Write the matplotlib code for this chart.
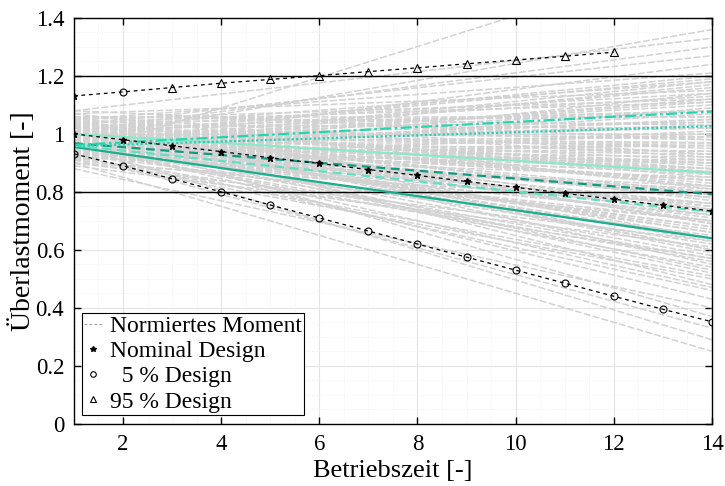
import matplotlib
matplotlib.use("Agg")

import numpy as np
import matplotlib.pyplot as plt
from matplotlib.lines import Line2D
from matplotlib.ticker import MultipleLocator

# ── Data ─────────────────────────────────────────────────────────────────────
YEARS = np.arange(1, 15)

NOMINAL = [1.00, 0.980, 0.959, 0.939, 0.918, 0.898, 0.877, 0.857, 0.836,
           0.816, 0.795, 0.775, 0.754, 0.734]
P05 = [0.931, 0.890, 0.845, 0.800, 0.755, 0.710, 0.665, 0.620, 0.575,
       0.530, 0.485, 0.440, 0.395, 0.352]
YEARS_95 = np.arange(1, 13)
P95 = [1.131, 1.145, 1.160, 1.175, 1.188, 1.201, 1.215, 1.228, 1.242,
       1.255, 1.268, 1.282]

# normalised moment fan: value at year 1 and year 14 of each straight line
FAN_START = [0.90, 0.96, 0.93, 1.01, 0.88, 0.97, 0.94, 1.03, 0.91, 0.99,
             0.95, 1.05, 0.92, 0.98, 1.02, 0.89, 0.96, 1.04, 0.93, 1.00,
             0.97, 1.06, 0.91, 0.99, 0.94, 1.02, 0.96, 0.90, 1.03, 0.98,
             0.95, 1.07, 0.92, 1.00, 0.97, 1.04, 0.94, 0.99, 1.01, 0.93,
             1.05, 0.96, 0.98, 1.02, 0.95, 1.08, 0.97, 1.00, 0.91, 1.03,
             0.99, 0.96, 1.06, 0.94, 1.01, 0.98, 1.04, 0.95, 1.00, 1.07,
             0.97, 1.02, 0.99, 1.05, 0.96, 1.03, 1.01, 1.08, 0.98, 0.93,
             0.97, 0.92, 1.00, 0.95, 1.03, 0.90, 0.98, 0.94, 1.01, 0.96,
             1.04, 0.93, 0.99, 0.97, 0.91, 1.02, 0.95, 1.00, 0.98, 1.05,
             0.94, 0.97, 1.01, 0.92, 0.99, 1.03, 0.96, 1.06, 0.93, 1.00,
             0.98, 0.95, 1.02, 0.97, 0.91, 1.04, 0.99, 0.96, 1.01, 0.94,
             1.00, 0.97, 1.03, 0.95, 0.99, 0.92, 1.02, 0.98, 1.05, 0.96,
             1.01, 0.94, 0.99, 1.03, 0.97, 1.00, 0.95, 1.02, 0.98, 1.04,
             0.96, 1.00, 0.93, 1.01, 0.97, 1.06, 0.99, 0.95, 1.02, 0.98]
FAN_END = [0.25, 0.29, 0.33, 0.37, 0.40, 0.43, 0.46, 0.48, 0.50, 0.52,
           0.54, 0.55, 0.57, 0.58, 0.60, 0.61, 0.62, 0.64, 0.65, 0.66,
           0.68, 0.69, 0.70, 0.71, 0.72, 0.74, 0.75, 0.76, 0.77, 0.78,
           0.80, 0.81, 0.82, 0.83, 0.84, 0.86, 0.87, 0.88, 0.89, 0.90,
           0.92, 0.93, 0.94, 0.95, 0.96, 0.98, 0.99, 1.00, 1.01, 1.02,
           1.04, 1.05, 1.06, 1.07, 1.08, 1.10, 1.11, 1.12, 1.13, 1.15,
           1.16, 1.18, 1.19, 1.21, 1.24, 1.27, 1.30, 1.33, 1.36, 1.62,
           0.47, 0.51, 0.53, 0.56, 0.59, 0.63, 0.67, 0.70, 0.73, 0.79,
           0.85, 0.91, 0.97, 1.03, 1.09, 1.14, 1.17, 0.63, 0.66, 0.69,
           0.72, 0.75, 0.78, 0.81, 0.84, 0.87, 0.90, 0.93, 0.96, 0.99,
           1.02, 1.05, 1.08, 1.11, 1.14, 0.60, 0.64, 0.68, 0.72, 0.76,
           0.80, 0.84, 0.88, 0.92, 0.96, 1.00, 1.04, 1.08, 1.12, 1.18,
           0.70, 0.74, 0.78, 0.82, 0.86, 0.90, 0.94, 0.98, 1.02, 1.06,
           0.57, 0.79, 0.85, 0.91, 0.97, 1.03, 1.20, 0.88, 0.82, 0.76]

# teal design lines (year 1 -> year 14)
TEAL_START = [0.955, 1.000, 0.968, 0.960, 0.962, 0.958]
TEAL_END = [0.640, 0.866, 0.792, 0.731, 1.077, 1.027]

LIMITS = [0.8, 1.2]

# ── Style ────────────────────────────────────────────────────────────────────
plt.rcParams["font.family"] = ["Liberation Serif", "DejaVu Serif"]

TEAL_STYLES = [
    dict(color="#19ae8e", ls="-", lw=1.6),
    dict(color="#8ee8c8", ls="-", lw=1.6),
    dict(color="#0f9a80", ls=(0, (4, 2.5)), lw=1.6),
    dict(color="#5fe0bf", ls=(0, (4, 2.5)), lw=1.6),
    dict(color="#24d6ae", ls=(0, (5, 1.5, 1.2, 1.5)), lw=1.6),
    dict(color="#2bcfb4", ls=(0, (1, 1)), lw=1.6),
]
DASH = (0, (3, 3))

fig = plt.figure(figsize=(7.25, 4.86), dpi=100)
ax = fig.add_axes([0.102, 0.128, 0.880, 0.835])

# fan of normalised moments
x_fan = [YEARS[0], YEARS[-1]]
for s, e in zip(FAN_START, FAN_END):
    ax.plot(x_fan, [s, e], color="#d2d2d2", lw=1.1, ls=(0, (4.5, 1.5)), zorder=1)

# limits
for y in LIMITS:
    ax.axhline(y, color="black", lw=1.0, zorder=3)

# teal design lines
for s, e, st in zip(TEAL_START, TEAL_END, TEAL_STYLES):
    ax.plot(x_fan, [s, e], color=st["color"], ls=st["ls"], lw=st["lw"], zorder=4)

# designs
ax.plot(YEARS, NOMINAL, color="black", ls=DASH, lw=0.9,
        marker="*", ms=5, mfc="black", mec="black", zorder=5)
ax.plot(YEARS, P05, color="black", ls=DASH, lw=0.9,
        marker="o", ms=5, mfc="none", mec="black", mew=0.8, zorder=5)
ax.plot(YEARS_95, P95, color="black", ls=DASH, lw=0.9, zorder=5)
ax.plot(YEARS_95[0], P95[0], ls="none", marker="*", ms=5, color="black", zorder=6)
ax.plot(YEARS_95[1], P95[1], ls="none", marker="o", ms=5, mfc="none",
        mec="black", mew=0.8, zorder=6)
ax.plot(YEARS_95[2:], P95[2:], ls="none", marker="^", ms=5.5, mfc="none",
        mec="black", mew=0.8, zorder=6)

# ── Axes ─────────────────────────────────────────────────────────────────────
ax.set_xlim(1, 14)
ax.set_ylim(0, 1.4)
ax.set_xticks(np.arange(2, 15, 2))
ax.set_yticks(np.arange(0, 1.41, 0.2))
ax.set_yticklabels(["0", "0.2", "0.4", "0.6", "0.8", "1", "1.2", "1.4"])
ax.xaxis.set_minor_locator(MultipleLocator(0.5))
ax.yaxis.set_minor_locator(MultipleLocator(0.05))
ax.grid(which="major", color="#e4e4e4", lw=0.8, zorder=0)
ax.grid(which="minor", color="#ececec", lw=0.6, ls=(0, (1, 2)), zorder=0)
ax.set_axisbelow(True)
ax.tick_params(which="major", direction="in", length=5, width=1,
               top=True, right=True, labelsize=16.5, pad=7)
ax.tick_params(which="minor", length=0)
for sp in ax.spines.values():
    sp.set_linewidth(1.0)
    sp.set_zorder(7)

ax.set_xlabel("Betriebszeit [-]", fontsize=19, labelpad=4)
ax.set_ylabel("Überlastmoment [-]", fontsize=20, labelpad=0)

# ── Legend ───────────────────────────────────────────────────────────────────
handles = [
    Line2D([], [], color="#a0a0a0", lw=0.8, ls=(0, (2.5, 2))),
    Line2D([], [], ls="none", marker="*", ms=4, color="black"),
    Line2D([], [], ls="none", marker="o", ms=4, mfc="none", mec="black", mew=0.8),
    Line2D([], [], ls="none", marker="^", ms=4, mfc="none", mec="black", mew=0.8),
]
labels = ["Normiertes Moment", "Nominal Design", "  5 % Design", "95 % Design"]
leg = ax.legend(handles, labels, loc="lower left", bbox_to_anchor=(0.012, 0.022),
                borderaxespad=0, fontsize=17, frameon=True, fancybox=False,
                framealpha=1, edgecolor="black", handlelength=0.8,
                handletextpad=0.3, borderpad=0.1, labelspacing=0.15)
leg.get_frame().set_linewidth(0.8)
leg.set_zorder(10)

fig.savefig("out.png", dpi=100)
plt.close(fig)
